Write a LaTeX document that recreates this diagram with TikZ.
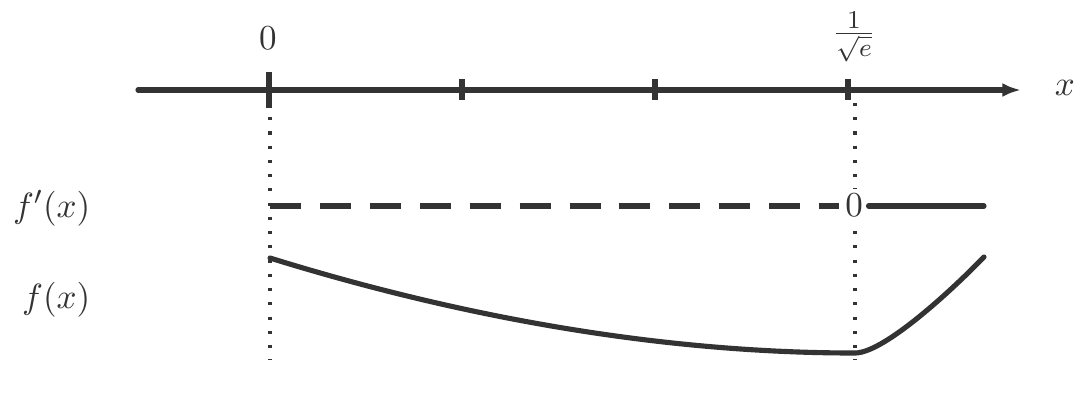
\documentclass[tikz,border=0pt]{standalone}
\usetikzlibrary{arrows.meta}
\definecolor{ink}{RGB}{51,51,51}
\begin{document}
\begin{tikzpicture}[x=0.3125pt,y=-0.3125pt,
  axisline/.style={ink,line width=1.6pt,line cap=round},
  tickline/.style={ink,line width=1.9pt},
  guide/.style={ink,line width=0.95pt,dash pattern=on 0.95pt off 3.5pt},
  dashline/.style={ink,line width=1.6pt,dash pattern=on 9.7pt off 5.9pt},
  solidline/.style={ink,line width=1.6pt,line cap=round},
  lbl/.style={text=ink,inner sep=0pt,font=\fontsize{11.2}{13}\selectfont}]
\path[use as bounding box] (0,0) rectangle (1088,403);
% axis
\coordinate (axS) at (138,90);
\coordinate (axE) at (1021,90);
\draw[axisline,-{Latex[length=5.8pt,width=4.3pt]}] (axS) -- (axE);
\node[lbl] (xl) at (1065,88) {$x$};
% ticks
\coordinate (t0a) at (269,72); \coordinate (t0b) at (269,108);
\coordinate (t1a) at (462,79); \coordinate (t1b) at (462,100);
\coordinate (t2a) at (655,79); \coordinate (t2b) at (655,100);
\coordinate (t3a) at (848,79); \coordinate (t3b) at (848,100);
\draw[tickline] (t0a) -- (t0b);
\draw[tickline] (t1a) -- (t1b);
\draw[tickline] (t2a) -- (t2b);
\draw[tickline] (t3a) -- (t3b);
\node[lbl] (l0) at (268,38) {$0$};
\node[lbl] (lr) at (854,37) {$\frac{1}{\sqrt{e}}$};
% guides
\coordinate (g0a) at (270,103); \coordinate (g0b) at (270,360);
\coordinate (g1a) at (855,103); \coordinate (g1b) at (855,360);
\draw[guide] (g0a) -- (g0b);
\draw[guide] (g1a) -- (g1b);
% row labels
\node[lbl,anchor=east] (fp) at (91,208) {$f'(x)$};
\node[lbl,anchor=east] (fl) at (91,300) {$f(x)$};
% derivative row
\node[lbl,fill=white,inner sep=1.6pt] (z) at (854,205) {$0$};
\coordinate (dS) at (270,206);
\coordinate (dE) at (984,206);
\draw[dashline] (dS) -- (dS -| z.west);
\draw[solidline] (dE -| z.east) -- (dE);
% function curve
\coordinate (c0) at (270,258);
\coordinate (cm) at (855,353);
\coordinate (c1) at (984,257);
\draw[solidline] (c0) .. controls (470,320) and (669,353) .. (cm)
  .. controls (882,353) and (944,298) .. (c1);
\end{tikzpicture}
\end{document}
